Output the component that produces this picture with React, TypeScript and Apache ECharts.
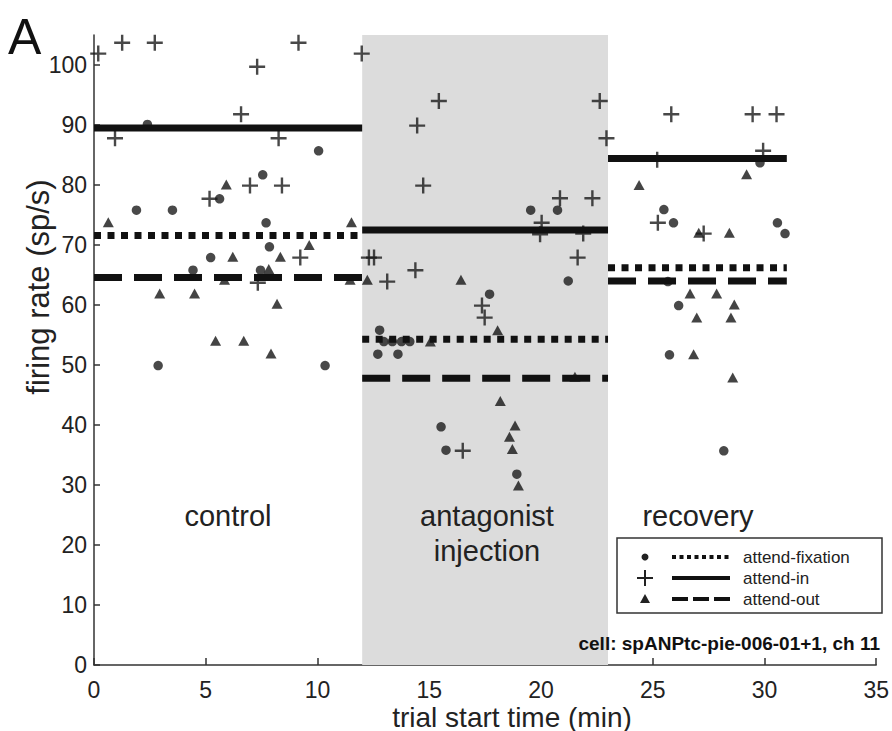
import React, { useEffect, useRef } from "react";
import * as echarts from "echarts";

// ---- data ----
const periodBounds = [0, 12, 23, 31];
const fixationMeans = [71.6, 54.3, 66.2];
const inMeans = [89.5, 72.5, 84.4];
const outMeans = [64.6, 47.8, 64.0];
const injectionWindow = [12, 23];

const xTicks = [0, 5, 10, 15, 20, 25, 30, 35];
const yTicks = [0, 10, 20, 30, 40, 50, 60, 70, 80, 90, 100];

const fixationPoints = [
  [2.39, 90.1], [10.05, 85.7], [7.55, 81.7], [5.62, 77.7], [1.9, 75.8], [3.51, 75.8],
  [7.7, 73.7], [7.85, 69.7], [5.22, 67.9], [4.43, 65.8], [7.45, 65.8], [2.87, 49.9], [10.34, 49.9],
  [12.78, 55.8], [12.97, 53.9], [13.35, 53.9], [13.76, 53.9], [14.13, 53.9], [12.7, 51.8], [13.6, 51.8],
  [19.54, 75.8], [20.74, 75.8], [21.22, 64], [17.7, 61.8], [15.53, 39.7], [15.75, 35.8], [18.92, 31.8],
  [29.8, 83.7], [25.5, 75.9], [25.93, 73.7], [30.58, 73.7], [30.92, 71.9], [25.68, 63.9], [26.16, 59.9],
  [25.75, 51.7], [28.18, 35.7],
];

const inPoints = [
  [0.19, 101.9], [1.26, 103.7], [2.72, 103.7], [9.15, 103.7], [11.98, 101.9], [7.3, 99.7], [6.58, 91.8],
  [0.94, 87.8], [8.26, 87.8], [6.98, 79.9], [8.41, 79.9], [5.17, 77.7], [9.23, 67.9], [7.33, 63.7],
  [14.46, 89.9], [15.43, 94], [22.63, 94], [22.93, 87.8], [14.73, 79.9], [20.85, 77.8], [22.3, 77.8],
  [20.03, 73.7], [19.96, 71.8], [21.89, 71.9], [12.3, 67.9], [12.53, 67.9], [14.38, 65.8], [13.12, 63.9],
  [21.64, 67.9], [17.36, 59.9], [17.48, 57.9], [16.5, 35.7],
  [25.83, 91.8], [29.47, 91.8], [30.54, 91.8], [25.2, 84.2], [29.94, 85.7], [25.23, 73.7], [27.28, 71.9],
];

const outPoints = [
  [5.92, 80.1], [0.64, 73.8], [11.52, 73.8], [9.63, 70], [6.21, 68.05], [8.34, 68.05], [7.82, 66],
  [5.84, 64.2], [11.46, 64.2], [2.94, 61.9], [4.5, 61.9], [8.19, 60.2], [5.44, 54.05], [6.7, 54.05], [7.92, 51.9],
  [12.23, 64.2], [16.42, 64.2], [18.06, 55.8], [15.05, 53.9], [21.52, 48.05], [18.18, 44], [18.84, 39.9],
  [18.59, 38.05], [18.72, 36], [18.99, 29.9],
  [24.39, 80], [29.2, 81.8], [27.06, 72.05], [28.43, 72.05], [26.67, 61.9], [27.86, 61.9], [28.65, 60.1],
  [26.97, 57.9], [28.5, 57.9], [26.83, 51.8], [28.58, 47.9],
];

const FONT = "'Liberation Sans', Arial, Helvetica, sans-serif";
const INK = "#222";
const PLUS = "path://M6.8,0H9.2V6.8H16V9.2H9.2V16H6.8V9.2H0V6.8H6.8Z";

function meanSeries(means: number[], dash: any, name: string) {
  return means.map((m, i) => ({
    name: name + i,
    type: "line",
    data: [
      [periodBounds[i], m],
      [periodBounds[i + 1], m],
    ],
    symbol: "none",
    silent: true,
    z: 4,
    lineStyle: { color: "#111", width: 7, type: dash, cap: "butt" },
  }));
}

function label(text: string, x: number, y: number, extra: any = {}) {
  return {
    type: "text",
    x,
    y,
    z: 100,
    style: { text, fontSize: 29, fontFamily: FONT, fill: INK, align: "center", verticalAlign: "middle", ...extra },
  };
}

export default function App() {
  const ref = useRef<HTMLDivElement>(null);
  useEffect(() => {
    if (!ref.current) return;
    const chart = echarts.init(ref.current, null, { renderer: "svg" });
    const yTitle: any = label("firing rate (sp/s)", 38, 287, { fontSize: 31 });
    yTitle.rotation = Math.PI / 2;
    const option: any = {
      animation: false,
      backgroundColor: "#fff",
      grid: { left: 94, right: 13, top: 35, bottom: 66, containLabel: false },
      xAxis: {
        type: "value",
        min: 0,
        max: 35,
        interval: 5,
        axisLine: { show: true, lineStyle: { color: "#333", width: 1.5 } },
        axisTick: { show: true, inside: true, length: 7, lineStyle: { color: "#333", width: 1.5 } },
        axisLabel: { fontSize: 23, color: INK, fontFamily: FONT, margin: 13 },
        splitLine: { show: false },
      },
      yAxis: {
        type: "value",
        min: 0,
        max: 105,
        interval: 10,
        axisLine: { show: true, lineStyle: { color: "#333", width: 1.5 } },
        axisTick: { show: true, inside: true, length: 6, customValues: yTicks, lineStyle: { color: "#333", width: 1.5 } },
        axisLabel: {
          fontSize: 23,
          color: INK,
          fontFamily: FONT,
          margin: 7,
          customValues: yTicks,
          formatter: (v: number) => (yTicks.indexOf(v) >= 0 ? String(v) : ""),
        },
        splitLine: { show: false },
      },
      series: [
        {
          name: "attend-fixation",
          type: "scatter",
          data: fixationPoints,
          symbol: "circle",
          symbolSize: 9.5,
          z: 3,
          itemStyle: { color: "#1c1c1c" },
          markArea: {
            silent: true,
            itemStyle: { color: "#dcdcdc" },
            data: [[{ xAxis: injectionWindow[0] }, { xAxis: injectionWindow[1] }]],
          },
        },
        {
          name: "attend-in",
          type: "scatter",
          data: inPoints,
          symbol: PLUS,
          symbolSize: 16,
          z: 3,
          itemStyle: { color: "#1a1a1a" },
        },
        {
          name: "attend-out",
          type: "scatter",
          data: outPoints,
          symbol: "triangle",
          symbolSize: [11, 10],
          z: 3,
          itemStyle: { color: "#151515" },
        },
        ...meanSeries(fixationMeans, [7, 6.5], "fixMean"),
        ...meanSeries(inMeans, "solid", "inMean"),
        ...meanSeries(outMeans, [28, 12], "outMean"),
      ],
      graphic: [
        { type: "text", x: 8, y: 12, z: 100, style: { text: "A", fontSize: 50, fontFamily: FONT, fill: "#111" } },
        yTitle,
        label("trial start time (min)", 512, 717, { fontSize: 28 }),
        label("control", 228, 516),
        label("antagonist", 487, 516),
        label("injection", 487, 551),
        label("recovery", 698, 516),
        label("cell: spANPtc-pie-006-01+1, ch 11", 880, 643, { fontSize: 19, fontWeight: "bold", fill: "#111", align: "right" }),
        {
          type: "group",
          z: 100,
          children: [
            { type: "rect", z: 100, shape: { x: 617, y: 538, width: 265, height: 75 }, style: { fill: "#fff", stroke: "#333", lineWidth: 1.5 } },
            { type: "circle", z: 101, shape: { cx: 645, cy: 557, r: 3.5 }, style: { fill: "#222" } },
            { type: "line", z: 101, shape: { x1: 672, y1: 557, x2: 730, y2: 557 }, style: { stroke: "#111", lineWidth: 4, lineDash: [4, 3.5] } },
            { type: "text", z: 101, x: 743, y: 557, style: { text: "attend-fixation", fontSize: 17, fontFamily: FONT, fill: INK, verticalAlign: "middle" } },
            { type: "line", z: 101, shape: { x1: 637, y1: 578, x2: 653, y2: 578 }, style: { stroke: "#222", lineWidth: 2 } },
            { type: "line", z: 101, shape: { x1: 645, y1: 570, x2: 645, y2: 586 }, style: { stroke: "#222", lineWidth: 2 } },
            { type: "line", z: 101, shape: { x1: 672, y1: 578, x2: 730, y2: 578 }, style: { stroke: "#111", lineWidth: 4 } },
            { type: "text", z: 101, x: 743, y: 578, style: { text: "attend-in", fontSize: 17, fontFamily: FONT, fill: INK, verticalAlign: "middle" } },
            { type: "polygon", z: 101, shape: { points: [[645, 594], [650, 603], [640, 603]] }, style: { fill: "#222" } },
            { type: "line", z: 101, shape: { x1: 672, y1: 599, x2: 730, y2: 599 }, style: { stroke: "#111", lineWidth: 4, lineDash: [16, 5] } },
            { type: "text", z: 101, x: 743, y: 599, style: { text: "attend-out", fontSize: 17, fontFamily: FONT, fill: INK, verticalAlign: "middle" } },
          ],
        },
      ],
    };
    chart.setOption(option);
    return () => chart.dispose();
  }, []);
  return <div ref={ref} style={{ position: "fixed", left: 0, top: 0, width: 892, height: 731 }} />;
}
